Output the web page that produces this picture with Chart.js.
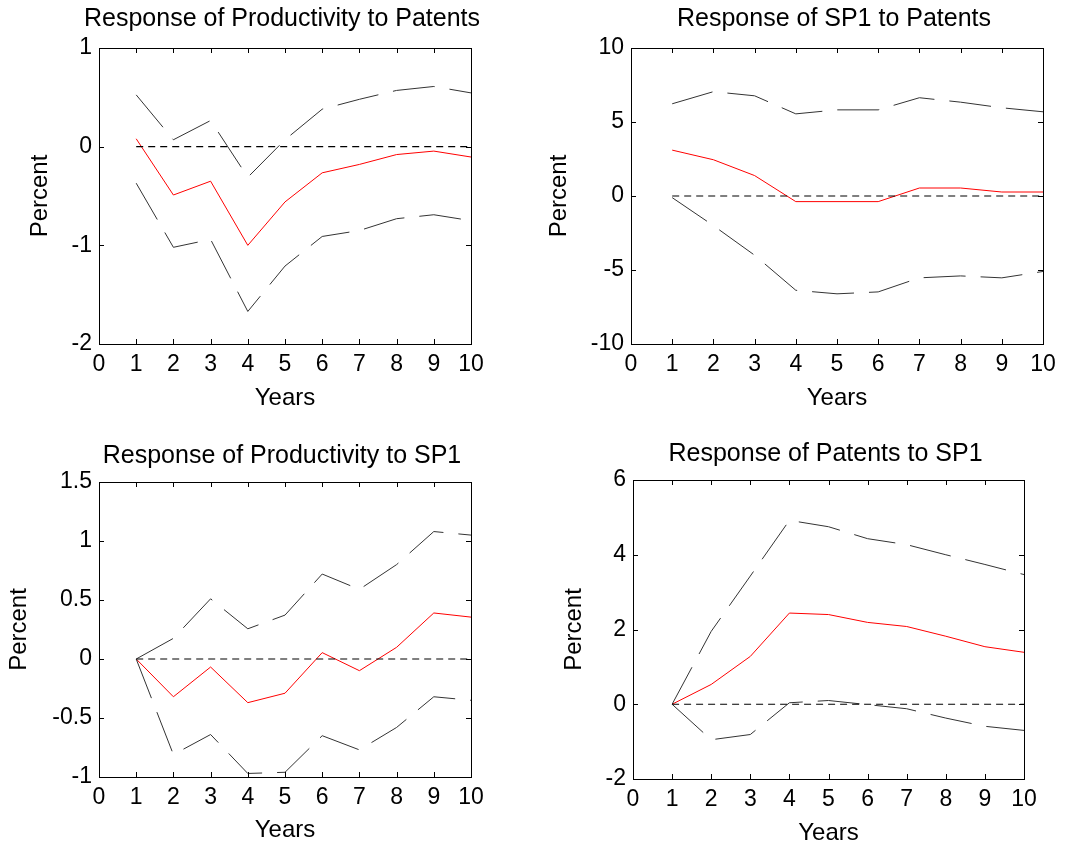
<!DOCTYPE html>
<html>
<head>
<meta charset="utf-8">
<script src="https://cdn.jsdelivr.net/npm/chart.js@4.4.1/dist/chart.umd.min.js"></script>
<style>
  body { margin: 0; background: #fff; }
  #wrap { position: relative; width: 1083px; height: 848px; }
  .panel { position: absolute; }
</style>
</head>
<body>
<div id="wrap">
  <div class="panel" style="left:0;top:0;width:540px;height:424px"><canvas id="c1"></canvas></div>
  <div class="panel" style="left:540px;top:0;width:543px;height:424px"><canvas id="c2"></canvas></div>
  <div class="panel" style="left:0;top:424px;width:540px;height:424px"><canvas id="c3"></canvas></div>
  <div class="panel" style="left:540px;top:424px;width:543px;height:424px"><canvas id="c4"></canvas></div>
</div>
<script>
const years = [1, 2, 3, 4, 5, 6, 7, 8, 9, 10];
const zeroLine = [0, 0, 0, 0, 0, 0, 0, 0, 0, 0];

// Response of Productivity to Patents
const prodPatentsIrf = [0.08, -0.49, -0.35, -1.00, -0.56, -0.265, -0.18, -0.08, -0.045, -0.105];
const prodPatentsUpper = [0.525, 0.07, 0.265, -0.31, 0.07, 0.38, 0.48, 0.57, 0.61, 0.545];
const prodPatentsLower = [-0.37, -1.02, -0.94, -1.67, -1.21, -0.91, -0.85, -0.73, -0.69, -0.75];

// Response of SP1 to Patents
const sp1PatentsIrf = [3.1, 2.45, 1.38, -0.38, -0.38, -0.38, 0.54, 0.54, 0.27, 0.27];
const sp1PatentsUpper = [6.23, 7.05, 6.77, 5.55, 5.82, 5.82, 6.64, 6.34, 5.96, 5.69];
const sp1PatentsLower = [-0.11, -2.0, -4.0, -6.37, -6.61, -6.48, -5.53, -5.40, -5.53, -5.10];

// Response of Productivity to SP1
const prodSp1Irf = [0, -0.32, -0.068, -0.37, -0.29, 0.054, -0.099, 0.099, 0.39, 0.355];
const prodSp1Upper = [0, 0.175, 0.51, 0.256, 0.372, 0.72, 0.59, 0.80, 1.08, 1.05];
const prodSp1Lower = [0, -0.81, -0.64, -0.97, -0.96, -0.65, -0.77, -0.58, -0.32, -0.35];

// Response of Patents to SP1
const patentsSp1Irf = [0, 0.53, 1.28, 2.44, 2.40, 2.19, 2.08, 1.82, 1.54, 1.39];
const patentsSp1Upper = [0, 1.95, 3.43, 4.92, 4.75, 4.43, 4.27, 4.0, 3.74, 3.47];
const patentsSp1Lower = [0, -0.95, -0.81, 0.04, 0.10, -0.01, -0.12, -0.37, -0.59, -0.70];

const FONT = '"Liberation Sans", Arial, sans-serif';
Chart.defaults.font.family = FONT;
Chart.defaults.color = '#000';

// box around the plot with inward ticks on all four sides, plus the panel title
const framePlugin = {
    id: 'frame',
    afterDatasetsDraw(chart, args, opts) {
        const { ctx, chartArea: a, scales: { x, y } } = chart;
        const tick = 5;
        ctx.save();
        ctx.strokeStyle = '#000';
        ctx.lineWidth = 1;
        ctx.beginPath();
        x.ticks.forEach((t) => {
            const px = Math.round(x.getPixelForValue(t.value)) + 0.5;
            ctx.moveTo(px, a.bottom); ctx.lineTo(px, a.bottom - tick);
            ctx.moveTo(px, a.top); ctx.lineTo(px, a.top + tick);
        });
        y.ticks.forEach((t) => {
            const py = Math.round(y.getPixelForValue(t.value)) + 0.5;
            ctx.moveTo(a.left, py); ctx.lineTo(a.left + tick, py);
            ctx.moveTo(a.right, py); ctx.lineTo(a.right - tick, py);
        });
        ctx.stroke();
        ctx.strokeRect(Math.round(a.left) + 0.5, Math.round(a.top) + 0.5,
            Math.round(a.right - a.left), Math.round(a.bottom - a.top));

        ctx.fillStyle = '#000';
        ctx.font = '25px ' + FONT;
        ctx.textAlign = 'center';
        ctx.textBaseline = 'alphabetic';
        ctx.fillText(opts.text, (a.left + a.right) / 2 - 3, a.top - opts.gap);
        ctx.restore();
    }
};

function toPoints(values) {
    return years.map((yr, i) => ({ x: yr, y: values[i] }));
}

function makePanel(id, p) {
    new Chart(document.getElementById(id), {
        type: 'line',
        data: {
            datasets: [
                { data: toPoints(zeroLine), borderColor: '#000', borderWidth: 1.2, borderDash: [7, 5] },
                { data: toPoints(p.upper), borderColor: '#333', borderWidth: 1, borderDash: [42, 15] },
                { data: toPoints(p.lower), borderColor: '#333', borderWidth: 1, borderDash: [42, 15] },
                { data: toPoints(p.irf), borderColor: '#ff0000', borderWidth: 1 }
            ]
        },
        options: {
            responsive: true,
            maintainAspectRatio: false,
            animation: false,
            elements: { point: { radius: 0 }, line: { tension: 0 } },
            layout: { padding: p.pad },
            plugins: {
                legend: { display: false },
                tooltip: { enabled: false },
                title: { display: false },
                frame: { text: p.title, gap: p.titleGap }
            },
            scales: {
                x: {
                    type: 'linear',
                    min: 0,
                    max: 10,
                    grid: { display: false, drawTicks: false },
                    border: { display: false },
                    ticks: { stepSize: 1, font: { size: 23 }, padding: 7, maxRotation: 0 },
                    title: { display: true, text: 'Years', font: { size: 24 }, padding: 0 },
                    afterFit: (s) => { s.height = p.xHeight; }
                },
                y: {
                    min: p.yMin,
                    max: p.yMax,
                    grid: { display: false, drawTicks: false },
                    border: { display: false },
                    ticks: {
                        stepSize: p.yStep,
                        font: { size: 23 },
                        padding: 7,
                        callback: (v) => String(v)
                    },
                    title: { display: true, text: 'Percent', font: { size: 24 }, padding: 0 },
                    afterFit: (s) => { s.width = p.yWidth; }
                }
            }
        },
        plugins: [framePlugin]
    });
}

makePanel('c1', {
    title: 'Response of Productivity to Patents',
    irf: prodPatentsIrf, upper: prodPatentsUpper, lower: prodPatentsLower,
    yMin: -2, yMax: 1, yStep: 1,
    pad: { left: 26.3, right: 69, top: 48, bottom: 11 },
    titleGap: 22,
    yWidth: 72.7, xHeight: 69
});

makePanel('c2', {
    title: 'Response of SP1 to Patents',
    irf: sp1PatentsIrf, upper: sp1PatentsUpper, lower: sp1PatentsLower,
    yMin: -10, yMax: 10, yStep: 5,
    pad: { left: 4.8, right: 40, top: 48, bottom: 11 },
    titleGap: 22,
    yWidth: 86.2, xHeight: 69
});

makePanel('c3', {
    title: 'Response of Productivity to SP1',
    irf: prodSp1Irf, upper: prodSp1Upper, lower: prodSp1Lower,
    yMin: -1, yMax: 1.5, yStep: 0.5,
    pad: { left: 5.3, right: 69, top: 58, bottom: 3 },
    titleGap: 19,
    yWidth: 93.7, xHeight: 68
});

makePanel('c4', {
    title: 'Response of Patents to SP1',
    irf: patentsSp1Irf, upper: patentsSp1Upper, lower: patentsSp1Lower,
    yMin: -2, yMax: 6, yStep: 2,
    pad: { left: 19.8, right: 59, top: 56, bottom: 0 },
    titleGap: 19,
    yWidth: 73.2, xHeight: 69
});
</script>
</body>
</html>
